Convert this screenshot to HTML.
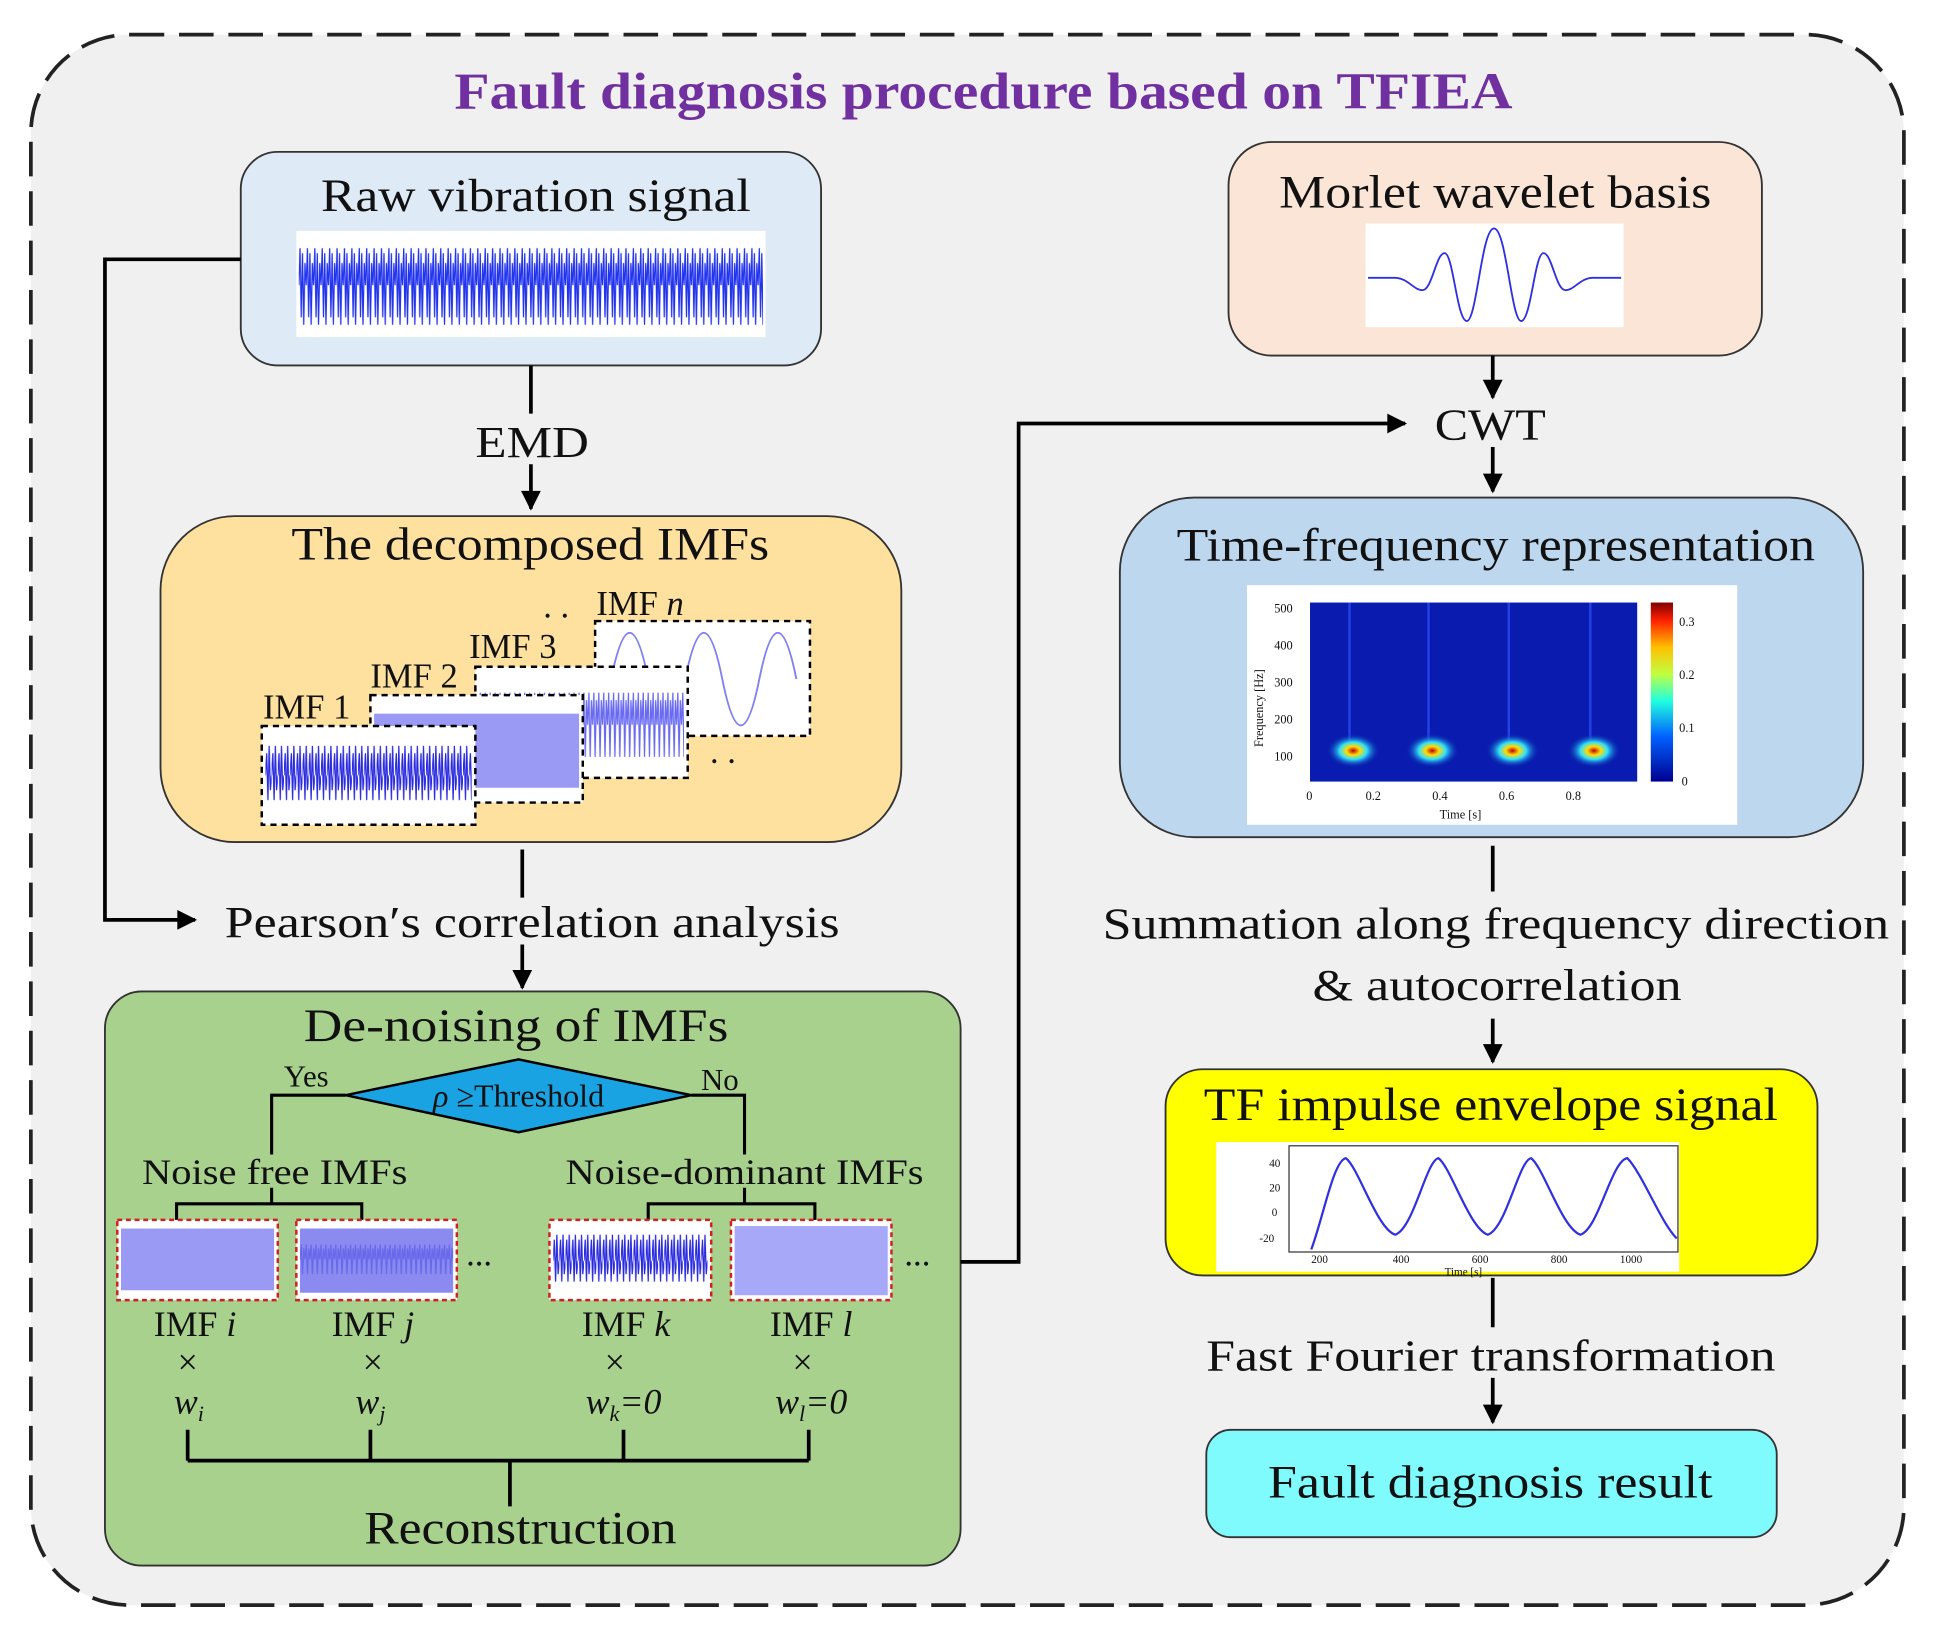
<!DOCTYPE html>
<html><head><meta charset="utf-8"><style>
html,body{margin:0;padding:0;background:#fff}
svg{display:block}
text{font-family:"Liberation Serif",serif;fill:#111}
</style></head><body>
<svg width="1936" height="1636" viewBox="0 0 1568 1325" xmlns="http://www.w3.org/2000/svg">
<defs>
<pattern id="noise" x="242" y="195" width="6" height="72" patternUnits="userSpaceOnUse">
<path d="M0,36 L1,6 L2,62 L3,10 L4,68 L5,18 L6,36" stroke="#2233ee" stroke-width="1" fill="none"/>
</pattern>
<pattern id="noise2" x="215" y="592" width="5" height="72" patternUnits="userSpaceOnUse">
<path d="M0,36 L1,18 L2,56 L3,12 L4,48 L5,36" stroke="#2a2ae0" stroke-width="1" fill="none"/>
</pattern>
<pattern id="noise3" x="448" y="992" width="5" height="58" patternUnits="userSpaceOnUse">
<path d="M0,29 L1,12 L2,46 L3,8 L4,40 L5,29" stroke="#2a2ae0" stroke-width="1" fill="none"/>
</pattern>
<pattern id="band" x="388" y="555" width="4" height="65" patternUnits="userSpaceOnUse">
<path d="M0,32 L1,6 L2,58 L3,12 L4,32" stroke="#6a6af0" stroke-width="1" fill="none"/>
</pattern>
<pattern id="band2" x="243" y="1005" width="4" height="30" patternUnits="userSpaceOnUse">
<path d="M0,15 L1,3 L2,27 L3,6 L4,15" stroke="#5a5ae8" stroke-width="1" fill="none"/>
</pattern>
<marker id="ar2" viewBox="0 0 10 10" markerWidth="18" markerHeight="16" refX="9" refY="5" orient="auto" markerUnits="userSpaceOnUse">
<path d="M0,0 L10,5 L0,10 Z" fill="#000"/></marker>
<radialGradient id="hot" cx="0.5" cy="0.5" r="0.5">
<stop offset="0" stop-color="#c00000"/><stop offset="0.25" stop-color="#ffdd00"/><stop offset="0.5" stop-color="#30e0ff"/><stop offset="1" stop-color="#0010a0" stop-opacity="0"/></radialGradient>
<linearGradient id="jet" x1="0" y1="1" x2="0" y2="0">
<stop offset="0" stop-color="#00008f"/><stop offset="0.25" stop-color="#0060ff"/><stop offset="0.45" stop-color="#20ffe0"/><stop offset="0.6" stop-color="#c0ff40"/><stop offset="0.75" stop-color="#ffc000"/><stop offset="0.9" stop-color="#ff2000"/><stop offset="1" stop-color="#800000"/></linearGradient>
</defs>

<rect x="25" y="28" width="1517" height="1272" rx="80" fill="#f0f0f0" stroke="#222" stroke-width="3" stroke-dasharray="28,12"/>
<text x="368" y="88" font-size="42" font-weight="bold" textLength="857" lengthAdjust="spacingAndGlyphs" style="fill:#7030a0">Fault diagnosis procedure based on TFIEA</text>

<!-- Raw -->
<rect x="195" y="123" width="470" height="173" rx="30" fill="#deeaf6" stroke="#333" stroke-width="1.5"/>
<text x="260" y="171" font-size="38" textLength="348" lengthAdjust="spacingAndGlyphs">Raw vibration signal</text>
<rect x="240" y="187" width="380" height="86" fill="#fff"/>
<rect x="242" y="195" width="376" height="72" fill="url(#noise)"/>
<line x1="430" y1="296" x2="430" y2="335" stroke="#000" stroke-width="3"/>
<text x="385" y="370" font-size="36" textLength="92" lengthAdjust="spacingAndGlyphs">EMD</text>
<line x1="430" y1="376" x2="430" y2="412" stroke="#000" stroke-width="3" marker-end="url(#ar2)"/>

<!-- IMFs -->
<rect x="130" y="418" width="600" height="264" rx="60" fill="#fee09f" stroke="#333" stroke-width="1.5"/>
<text x="236" y="453" font-size="38" textLength="387" lengthAdjust="spacingAndGlyphs">The decomposed IMFs</text>
<rect x="482" y="503" width="174" height="93" fill="#fff" stroke="#000" stroke-width="2" stroke-dasharray="5,4"/>
<path d="M495,550 C505,500 515,500 525,550 S545,600 555,550 S575,500 585,550 S605,600 615,550 S635,500 645,550" stroke="#8080f0" stroke-width="1.5" fill="none"/>
<rect x="385" y="540" width="172" height="90" fill="#fff" stroke="#000" stroke-width="2" stroke-dasharray="5,4"/>
<rect x="388" y="555" width="166" height="65" fill="url(#band)"/>
<rect x="300" y="563" width="172" height="87" fill="#fff" stroke="#000" stroke-width="2" stroke-dasharray="5,4"/>
<rect x="303" y="578" width="166" height="60" fill="#9a9af5"/>
<rect x="212" y="588" width="173" height="80" fill="#fff" stroke="#000" stroke-width="2" stroke-dasharray="5,4"/>
<rect x="215" y="592" width="167" height="72" fill="url(#noise2)"/>
<text x="483" y="498" font-size="28">IMF <tspan font-style="italic">n</tspan></text>
<text x="440" y="500" font-size="28">. .</text>
<text x="380" y="533" font-size="28">IMF 3</text>
<text x="300" y="557" font-size="28">IMF 2</text>
<text x="213" y="582" font-size="28">IMF 1</text>
<text x="575" y="618" font-size="28">. .</text>

<line x1="423" y1="688" x2="423" y2="727" stroke="#000" stroke-width="3"/>
<text x="182" y="759" font-size="36" textLength="498" lengthAdjust="spacingAndGlyphs">Pearson′s correlation analysis</text>
<line x1="423" y1="765" x2="423" y2="800" stroke="#000" stroke-width="3" marker-end="url(#ar2)"/>
<polyline points="195,210 85,210 85,745 158,745" fill="none" stroke="#000" stroke-width="3" marker-end="url(#ar2)"/>

<!-- Denoising -->
<rect x="85" y="803" width="693" height="465" rx="30" fill="#a9d18e" stroke="#333" stroke-width="1.5"/>
<text x="246" y="843" font-size="38" textLength="344" lengthAdjust="spacingAndGlyphs">De-noising of  IMFs</text>
<polygon points="280,887 420,858 560,887 420,917" fill="#1aa3e3" stroke="#000" stroke-width="2"/>
<text x="420" y="896" text-anchor="middle" font-size="26"><tspan font-style="italic">ρ</tspan> ≥Threshold</text>
<text x="248" y="880" text-anchor="middle" font-size="25">Yes</text>
<text x="583" y="883" text-anchor="middle" font-size="25">No</text>
<polyline points="280,887 220,887 220,935" fill="none" stroke="#000" stroke-width="2.5"/>
<polyline points="560,887 603,887 603,935" fill="none" stroke="#000" stroke-width="2.5"/>
<text x="115" y="959" font-size="29" textLength="215" lengthAdjust="spacingAndGlyphs">Noise free IMFs</text>
<text x="458" y="959" font-size="29" textLength="290" lengthAdjust="spacingAndGlyphs">Noise-dominant IMFs</text>
<path d="M220,962 V975 M143,990 V975 H293 V990 M603,962 V975 M525,990 V975 H660 V990" fill="none" stroke="#000" stroke-width="2.5"/>
<g stroke="#d02020" stroke-width="2" stroke-dasharray="4,3" fill="#fff">
<rect x="95" y="988" width="130" height="65"/><rect x="240" y="988" width="130" height="65"/>
<rect x="445" y="988" width="131" height="65"/><rect x="592" y="988" width="130" height="65"/></g>
<rect x="98" y="995" width="124" height="50" fill="#9a9af5"/>
<rect x="243" y="995" width="124" height="52" fill="#8a8af0"/><rect x="243" y="1005" width="124" height="30" fill="url(#band2)" opacity="0.7"/>
<rect x="448" y="992" width="125" height="58" fill="url(#noise3)"/>
<rect x="595" y="993" width="124" height="56" fill="#a8a8f8"/>
<text x="388" y="1025" text-anchor="middle" font-size="28">...</text>
<text x="743" y="1025" text-anchor="middle" font-size="28">...</text>
<g font-size="29" text-anchor="middle">
<text x="158" y="1082">IMF <tspan font-style="italic">i</tspan></text>
<text x="302" y="1082">IMF <tspan font-style="italic">j</tspan></text>
<text x="507" y="1082">IMF <tspan font-style="italic">k</tspan></text>
<text x="657" y="1082">IMF <tspan font-style="italic">l</tspan></text>
<text x="152" y="1113">×</text><text x="302" y="1113">×</text><text x="498" y="1113">×</text><text x="650" y="1113">×</text>
<text x="153" y="1145" font-style="italic">w<tspan font-size="18" dy="6">i</tspan></text>
<text x="300" y="1145" font-style="italic">w<tspan font-size="18" dy="6">j</tspan></text>
<text x="505" y="1145" font-style="italic">w<tspan font-size="18" dy="6">k</tspan><tspan dy="-6">=0</tspan></text>
<text x="657" y="1145" font-style="italic">w<tspan font-size="18" dy="6">l</tspan><tspan dy="-6">=0</tspan></text>
</g>
<path d="M152,1158 V1183 M300,1158 V1183 M505,1158 V1183 M655,1158 V1183 M152,1183 H655 M413,1183 V1220" fill="none" stroke="#000" stroke-width="3"/>
<text x="295" y="1250" font-size="38" textLength="253" lengthAdjust="spacingAndGlyphs">Reconstruction</text>

<polyline points="778,1022 825,1022 825,343 1138,343" fill="none" stroke="#000" stroke-width="3" marker-end="url(#ar2)"/>

<!-- Morlet -->
<rect x="995" y="115" width="432" height="173" rx="35" fill="#fbe5d6" stroke="#333" stroke-width="1.5"/>
<text x="1036" y="168" font-size="38" textLength="350" lengthAdjust="spacingAndGlyphs">Morlet wavelet basis</text>
<rect x="1106" y="181" width="209" height="84" fill="#fff"/>
<path d="M1108,225 H1130 C1140,225 1145,235 1152,235 C1160,235 1163,205 1170,205 C1177,205 1180,260 1188,260 C1196,260 1200,185 1210,185 C1220,185 1224,260 1232,260 C1240,260 1243,205 1250,205 C1257,205 1260,235 1268,235 C1275,235 1280,225 1290,225 H1313" fill="none" stroke="#3030e0" stroke-width="1.5"/>
<line x1="1209" y1="288" x2="1209" y2="322" stroke="#000" stroke-width="3" marker-end="url(#ar2)"/>
<text x="1162" y="356" font-size="36" textLength="90" lengthAdjust="spacingAndGlyphs">CWT</text>
<line x1="1209" y1="362" x2="1209" y2="398" stroke="#000" stroke-width="3" marker-end="url(#ar2)"/>

<!-- TF -->
<rect x="907" y="403" width="602" height="275" rx="60" fill="#bdd7ee" stroke="#333" stroke-width="1.5"/>
<text x="953" y="454" font-size="38" textLength="517" lengthAdjust="spacingAndGlyphs">Time-frequency representation</text>
<rect x="1010" y="474" width="397" height="194" fill="#fff"/>
<rect x="1061" y="488" width="265" height="145" fill="#0a1cb0"/>
<g stroke="#3050ff" stroke-width="2" opacity="0.7">
<line x1="1093" y1="488" x2="1093" y2="600"/><line x1="1157" y1="488" x2="1157" y2="600"/><line x1="1222" y1="488" x2="1222" y2="600"/><line x1="1288" y1="488" x2="1288" y2="600"/></g>
<ellipse cx="1096" cy="608" rx="22" ry="14" fill="url(#hot)"/>
<ellipse cx="1160" cy="608" rx="22" ry="14" fill="url(#hot)"/>
<ellipse cx="1225" cy="608" rx="22" ry="14" fill="url(#hot)"/>
<ellipse cx="1291" cy="608" rx="22" ry="14" fill="url(#hot)"/>
<rect x="1337" y="488" width="18" height="145" fill="url(#jet)"/>
<g font-family="Liberation Sans" font-size="10" style="fill:#333">
<text x="1032" y="496">500</text><text x="1032" y="526">400</text><text x="1032" y="556">300</text><text x="1032" y="586">200</text><text x="1032" y="616">100</text>
<text x="1058" y="648">0</text><text x="1106" y="648">0.2</text><text x="1160" y="648">0.4</text><text x="1214" y="648">0.6</text><text x="1268" y="648">0.8</text>
<text x="1166" y="663">Time [s]</text>
<text x="1360" y="507">0.3</text><text x="1360" y="550">0.2</text><text x="1360" y="593">0.1</text><text x="1362" y="636">0</text>
<text transform="translate(1023,605) rotate(-90)">Frequency [Hz]</text></g>

<line x1="1209" y1="685" x2="1209" y2="722" stroke="#000" stroke-width="3"/>
<text x="893" y="760" font-size="36" textLength="637" lengthAdjust="spacingAndGlyphs">Summation along frequency direction</text>
<text x="1063" y="810" font-size="36" textLength="299" lengthAdjust="spacingAndGlyphs">&amp; autocorrelation</text>
<line x1="1209" y1="825" x2="1209" y2="860" stroke="#000" stroke-width="3" marker-end="url(#ar2)"/>

<!-- TF impulse -->
<rect x="944" y="866" width="528" height="167" rx="30" fill="#ffff00" stroke="#333" stroke-width="1.5"/>
<text x="975" y="907" font-size="38" textLength="465" lengthAdjust="spacingAndGlyphs">TF impulse envelope signal</text>
<rect x="985" y="925" width="375" height="105" fill="#fff"/>
<rect x="1044" y="928" width="315" height="86" fill="none" stroke="#333" stroke-width="1"/>
<path d="M1062,1012 C1072,985 1080,940 1090,938 C1100,945 1115,995 1130,1000 C1145,995 1155,940 1165,938 C1175,945 1190,995 1205,1000 C1220,995 1230,940 1240,938 C1250,945 1265,995 1280,1000 C1295,995 1305,940 1318,938 C1330,950 1345,990 1358,1003" fill="none" stroke="#3030e0" stroke-width="1.8"/>
<g font-family="Liberation Sans" font-size="9" style="fill:#333">
<text x="1028" y="945">40</text><text x="1028" y="965">20</text><text x="1030" y="985">0</text><text x="1020" y="1006">-20</text>
<text x="1062" y="1023">200</text><text x="1128" y="1023">400</text><text x="1192" y="1023">600</text><text x="1256" y="1023">800</text><text x="1312" y="1023">1000</text>
<text x="1170" y="1033">Time [s]</text></g>
<line x1="1209" y1="1035" x2="1209" y2="1075" stroke="#000" stroke-width="3"/>
<text x="977" y="1110" font-size="36" textLength="461" lengthAdjust="spacingAndGlyphs">Fast Fourier transformation</text>
<line x1="1209" y1="1116" x2="1209" y2="1152" stroke="#000" stroke-width="3" marker-end="url(#ar2)"/>
<rect x="977" y="1158" width="462" height="87" rx="20" fill="#80fbfd" stroke="#333" stroke-width="1.5"/>
<text x="1027" y="1213" font-size="38" textLength="360" lengthAdjust="spacingAndGlyphs">Fault diagnosis result</text>
</svg>
</body></html>
